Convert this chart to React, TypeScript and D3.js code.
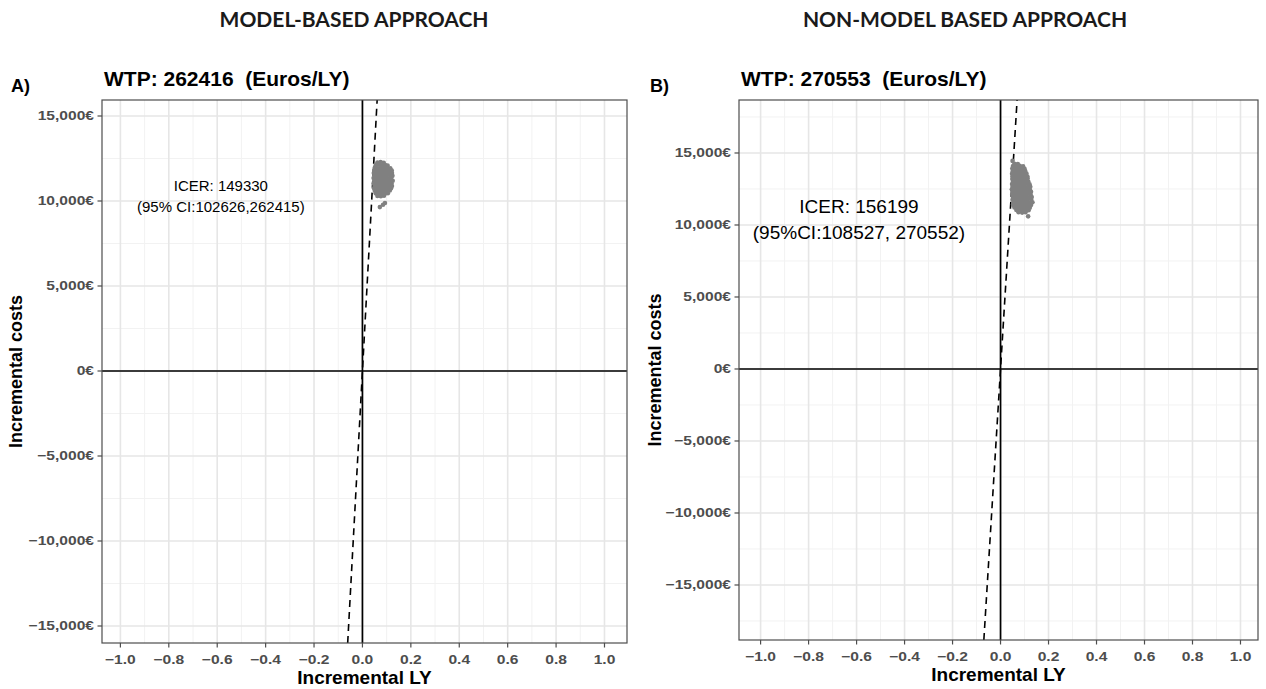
import React from 'react';
import * as d3 from 'd3';

// values
const sectionTitles = ['MODEL-BASED APPROACH', 'NON-MODEL BASED APPROACH'];
const panelTags = ['A)', 'B)'];
const wtpValues = [262416, 270553];
const icerValues = [149330, 156199];
const ciLabels = ['(95% CI:102626,262415)', '(95%CI:108527, 270552)'];

const xTicks = [-1.0, -0.8, -0.6, -0.4, -0.2, 0.0, 0.2, 0.4, 0.6, 0.8, 1.0];
const yTicks = [-15000, -10000, -5000, 0, 5000, 10000, 15000];
const yMinor = [-17500, -12500, -7500, -2500, 2500, 7500, 12500, 17500];

// bootstrap cloud, panel A: [incremental LY, incremental cost]
const cloudA: [number, number][] = [
  [0.062, 12260], [0.075, 12290], [0.088, 12240],
  [0.055, 12110], [0.068, 12130], [0.081, 12090], [0.094, 12120], [0.104, 12080],
  [0.051, 11960], [0.063, 11930], [0.077, 11970], [0.090, 11940], [0.102, 11960], [0.115, 11920],
  [0.049, 11800], [0.060, 11820], [0.072, 11780], [0.085, 11810], [0.097, 11790], [0.110, 11830], [0.121, 11790],
  [0.047, 11650], [0.058, 11630], [0.070, 11670], [0.083, 11640], [0.095, 11660], [0.108, 11620], [0.122, 11650],
  [0.050, 11500], [0.062, 11520], [0.074, 11480], [0.087, 11510], [0.100, 11490], [0.113, 11530], [0.124, 11480],
  [0.046, 11350], [0.057, 11330], [0.069, 11370], [0.081, 11340], [0.093, 11360], [0.106, 11320], [0.119, 11350],
  [0.049, 11200], [0.061, 11220], [0.073, 11180], [0.086, 11210], [0.098, 11190], [0.111, 11230], [0.125, 11190],
  [0.047, 11050], [0.058, 11030], [0.070, 11070], [0.082, 11040], [0.095, 11060], [0.107, 11020], [0.120, 11050],
  [0.050, 10900], [0.062, 10920], [0.075, 10880], [0.088, 10910], [0.101, 10890], [0.114, 10930], [0.122, 10880],
  [0.048, 10750], [0.059, 10730], [0.071, 10770], [0.084, 10740], [0.096, 10760], [0.109, 10720], [0.118, 10750],
  [0.051, 10600], [0.064, 10620], [0.077, 10580], [0.090, 10610], [0.103, 10590], [0.113, 10620],
  [0.055, 10450], [0.068, 10430], [0.081, 10470], [0.094, 10440], [0.105, 10460],
  [0.062, 10300], [0.076, 10280], [0.089, 10310],
  [0.072, 9640], [0.085, 9780], [0.093, 9880],
];

// bootstrap cloud, panel B
const cloudB: [number, number][] = [
  [0.050, 14450],
  [0.058, 14250], [0.072, 14230],
  [0.052, 14100], [0.066, 14080], [0.080, 14110], [0.094, 14070],
  [0.049, 13920], [0.062, 13940], [0.075, 13900], [0.089, 13930], [0.100, 13910],
  [0.051, 13740], [0.064, 13720], [0.078, 13760], [0.091, 13730], [0.103, 13750],
  [0.048, 13560], [0.060, 13580], [0.073, 13540], [0.086, 13570], [0.099, 13550], [0.108, 13580],
  [0.050, 13380], [0.063, 13360], [0.076, 13400], [0.089, 13370], [0.102, 13390], [0.112, 13360],
  [0.049, 13200], [0.061, 13220], [0.074, 13180], [0.087, 13210], [0.100, 13190], [0.113, 13230],
  [0.052, 13020], [0.065, 13000], [0.078, 13040], [0.091, 13010], [0.104, 13030], [0.116, 13000],
  [0.048, 12840], [0.060, 12860], [0.073, 12820], [0.086, 12850], [0.099, 12830], [0.112, 12870], [0.121, 12830],
  [0.050, 12660], [0.063, 12640], [0.076, 12680], [0.089, 12650], [0.102, 12670], [0.115, 12630], [0.124, 12660],
  [0.047, 12480], [0.059, 12500], [0.072, 12460], [0.085, 12490], [0.098, 12470], [0.111, 12510], [0.122, 12470],
  [0.051, 12300], [0.064, 12280], [0.077, 12320], [0.090, 12290], [0.103, 12310], [0.116, 12270], [0.127, 12300],
  [0.049, 12120], [0.061, 12140], [0.074, 12100], [0.087, 12130], [0.100, 12110], [0.113, 12150], [0.125, 12110],
  [0.052, 11940], [0.065, 11920], [0.078, 11960], [0.091, 11930], [0.104, 11950], [0.117, 11910], [0.130, 11940],
  [0.050, 11760], [0.062, 11780], [0.075, 11740], [0.088, 11770], [0.101, 11750], [0.114, 11790], [0.128, 11750],
  [0.054, 11580], [0.067, 11560], [0.080, 11600], [0.093, 11570], [0.106, 11590], [0.119, 11550], [0.133, 11580],
  [0.052, 11400], [0.064, 11420], [0.077, 11380], [0.090, 11410], [0.103, 11390], [0.116, 11430], [0.127, 11390],
  [0.058, 11220], [0.071, 11200], [0.084, 11240], [0.097, 11210], [0.110, 11230], [0.122, 11200],
  [0.066, 11040], [0.079, 11060], [0.092, 11020], [0.105, 11050], [0.117, 11030],
  [0.075, 10880], [0.090, 10860], [0.104, 10890],
  [0.115, 10600],
];

const clouds = [cloudA, cloudB];

const layouts = [
  {
    left: 102, right: 627, top: 100, bottom: 643,
    xDomain: [-1.076, 1.093], yDomain: [-16000, 15941],
    titleX: 354, tagX: 11, wtpX: 104, yTitleX: 22,
    noteAt: [-0.585, 10000], noteSize: 15, noteGap: 21,
  },
  {
    left: 739, right: 1258, top: 100, bottom: 640,
    xDomain: [-1.09, 1.073], yDomain: [-18820, 18680],
    titleX: 965, tagX: 650, wtpX: 741, yTitleX: 661,
    noteAt: [-0.59, 10000], noteSize: 19, noteGap: 26,
  },
];

const euro = (v: number) => d3.format(',')(v) + '€';
const tickStretch = 1.2;

function Panel({ idx }: { idx: number }) {
  const L = layouts[idx];
  const x = d3.scaleLinear().domain(L.xDomain).range([L.left, L.right]);
  const y = d3.scaleLinear().domain(L.yDomain).range([L.bottom, L.top]);
  const xMinor = xTicks.slice(1).map((t, k) => (t + xTicks[k]) / 2);
  const yMin = yMinor.filter(v => v > L.yDomain[0] && v < L.yDomain[1]);
  const wtp = wtpValues[idx];
  const line = d3.line<number>().x(c => x(c / wtp)).y(c => y(c));
  const clip = `clip-${idx}`;
  const midX = (L.left + L.right) / 2;
  const midY = (L.top + L.bottom) / 2;
  const [nx, ny] = L.noteAt;

  return (
    <g>
      <defs>
        <clipPath id={clip}>
          <rect x={L.left} y={L.top} width={L.right - L.left} height={L.bottom - L.top} />
        </clipPath>
      </defs>
      <text x={L.titleX} y={27} textAnchor="middle" fontFamily="Lato" fontWeight="bold" fontSize={21} fill="#1a1a1a">
        {sectionTitles[idx]}
      </text>
      <text x={L.tagX} y={92} fontFamily="Liberation Sans" fontWeight="bold" fontSize={18} fill="#000">
        {panelTags[idx]}
      </text>
      <text x={L.wtpX} y={86} fontFamily="Liberation Sans" fontWeight="bold" fontSize={21} fill="#000" style={{ whiteSpace: 'pre' }}>
        {`WTP: ${wtp}  (Euros/LY)`}
      </text>

      <rect x={L.left} y={L.top} width={L.right - L.left} height={L.bottom - L.top} fill="#fff" />
      <g clipPath={`url(#${clip})`}>
        {xMinor.map(v => (
          <line key={'xm' + v} x1={x(v)} x2={x(v)} y1={L.top} y2={L.bottom} stroke="#f2f2f2" strokeWidth={1} />
        ))}
        {yMin.map(v => (
          <line key={'ym' + v} x1={L.left} x2={L.right} y1={y(v)} y2={y(v)} stroke="#f2f2f2" strokeWidth={1} />
        ))}
        {xTicks.map(v => (
          <line key={'xg' + v} x1={x(v)} x2={x(v)} y1={L.top} y2={L.bottom} stroke="#e6e6e6" strokeWidth={1.6} />
        ))}
        {yTicks.map(v => (
          <line key={'yg' + v} x1={L.left} x2={L.right} y1={y(v)} y2={y(v)} stroke="#e6e6e6" strokeWidth={1.6} />
        ))}
        <line x1={x(0)} x2={x(0)} y1={L.top} y2={L.bottom} stroke="#000" strokeWidth={1.7} />
        <line x1={L.left} x2={L.right} y1={y(0)} y2={y(0)} stroke="#000" strokeWidth={1.7} />
        <path d={line(L.yDomain) || ''} fill="none" stroke="#000" strokeWidth={1.6} strokeDasharray="7,5" />
        {clouds[idx].map((d, k) => (
          <circle key={k} cx={x(d[0])} cy={y(d[1])} r={2.3} fill="#808080" />
        ))}
      </g>
      <rect x={L.left} y={L.top} width={L.right - L.left} height={L.bottom - L.top} fill="none" stroke="#4d4d4d" strokeWidth={1.2} />

      <g fontFamily="Liberation Sans" textAnchor="middle" fill="#000" fontSize={L.noteSize}>
        <text x={x(nx)} y={y(ny) - L.noteGap / 2 + 1}>{`ICER: ${icerValues[idx]}`}</text>
        <text x={x(nx)} y={y(ny) + L.noteGap / 2 + 1}>{ciLabels[idx]}</text>
      </g>

      <g fontFamily="Liberation Sans" fontWeight="bold" fontSize={13} fill="#4d4d4d">
        {xTicks.map(v => (
          <g key={'xt' + v}>
            <line x1={x(v)} x2={x(v)} y1={L.bottom} y2={L.bottom + 4.5} stroke="#4d4d4d" strokeWidth={1.2} />
            <text transform={`translate(${x(v)},${L.bottom + 21}) scale(${tickStretch},1)`} textAnchor="middle">
              {d3.format('.1f')(v)}
            </text>
          </g>
        ))}
        {yTicks.map(v => (
          <g key={'yt' + v}>
            <line x1={L.left - 4.5} x2={L.left} y1={y(v)} y2={y(v)} stroke="#4d4d4d" strokeWidth={1.2} />
            <text transform={`translate(${L.left - 8},${y(v) + 4.5}) scale(${tickStretch},1)`} textAnchor="end">
              {euro(v)}
            </text>
          </g>
        ))}
      </g>

      <text x={midX} y={L.bottom + 41} textAnchor="middle" fontFamily="Liberation Sans" fontWeight="bold" fontSize={19} fill="#000">
        Incremental LY
      </text>
      <text transform={`translate(${L.yTitleX},${midY}) rotate(-90)`} textAnchor="middle" fontFamily="Liberation Sans" fontWeight="bold" fontSize={18} fill="#000">
        Incremental costs
      </text>
    </g>
  );
}

export default function App() {
  return (
    <div style={{ position: 'absolute', left: 0, top: 0 }}>
      <svg width={1266} height={689} style={{ display: 'block', background: '#fff' }}>
        <Panel idx={0} />
        <Panel idx={1} />
      </svg>
    </div>
  );
}
